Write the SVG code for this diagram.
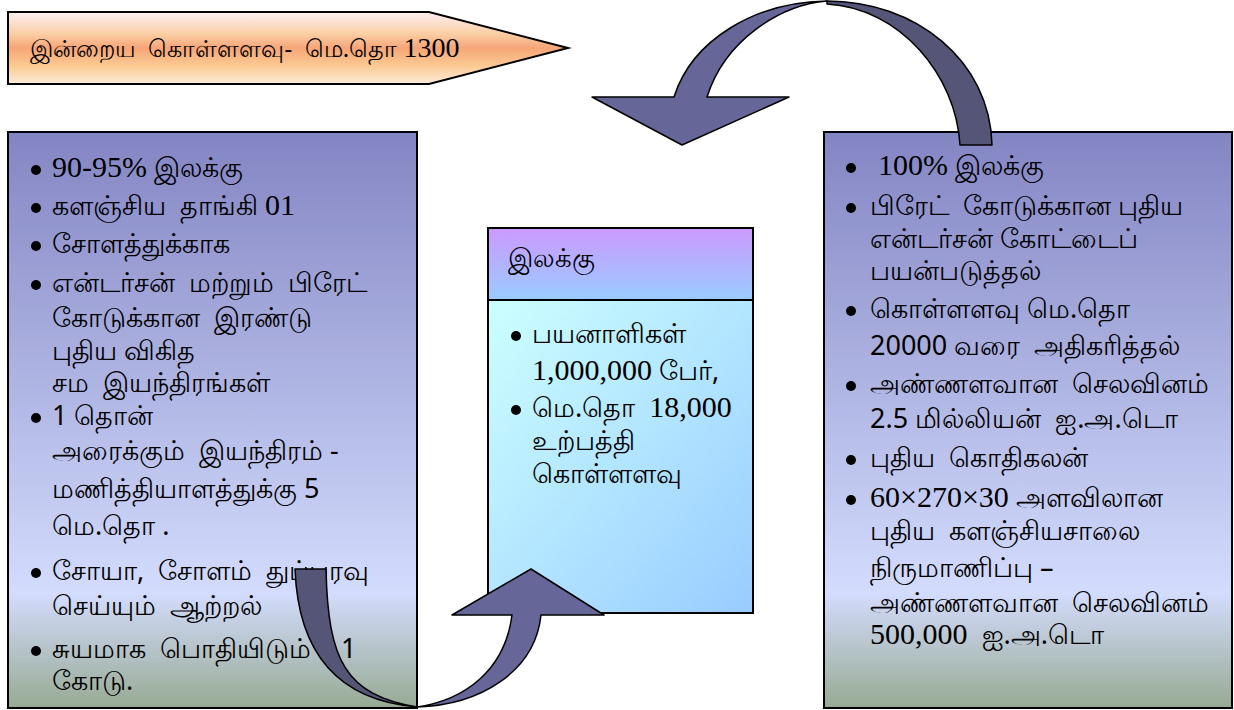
<svg xmlns="http://www.w3.org/2000/svg" width="1234" height="710" viewBox="0 0 1234 710">
<defs>
<linearGradient id="gTop" x1="0" y1="0" x2="0" y2="1">
<stop offset="0" stop-color="#fdeef2"/>
<stop offset="0.3" stop-color="#fbcfa6"/>
<stop offset="0.5" stop-color="#f6a577"/>
<stop offset="0.75" stop-color="#fbca92"/>
<stop offset="1" stop-color="#fdecda"/>
</linearGradient>
<linearGradient id="gSide" x1="0" y1="0" x2="0" y2="1">
<stop offset="0" stop-color="#8385c3"/>
<stop offset="0.8" stop-color="#d3dcfd"/>
<stop offset="1" stop-color="#97aa93"/>
</linearGradient>
<linearGradient id="gHead" x1="0" y1="0" x2="0" y2="1">
<stop offset="0" stop-color="#cc99ff"/>
<stop offset="1" stop-color="#99ccff"/>
</linearGradient>
<linearGradient id="gBody" x1="0" y1="0" x2="1" y2="1">
<stop offset="0" stop-color="#ccffff"/>
<stop offset="1" stop-color="#99ccff"/>
</linearGradient>
</defs>
<style>
.box{stroke:#000;stroke-width:2}
text{font-family:"Noto Sans","DejaVu Sans",sans-serif;font-size:27px;fill:#000;white-space:pre}
.s{font-family:"Liberation Serif","Times New Roman",serif;font-size:30px}
.arrL{fill:#666699;stroke:#000;stroke-width:1.5;stroke-linejoin:round}
.arrD{fill:#555577;stroke:#000;stroke-width:1.5;stroke-linejoin:round}
.b{fill:#000}
</style>

<g id="node-current">
<path class="box" d="M8,12 L429,12 L568,48 L429,84 L8,84 Z" fill="url(#gTop)"/>
<text x="30" y="57" style="font-size:24px">இன்றைய  கொள்ளளவு-  மெ.தொ <tspan class="s" style="font-size:28px">1300</tspan></text>
</g>

<g id="node-left">
<rect class="box" x="8" y="132" width="409" height="576" fill="url(#gSide)"/>
<circle class="b" cx="36" cy="170" r="5"/>
<text x="52" y="177"><tspan class="s">90-95%</tspan> இலக்கு</text>
<circle class="b" cx="36" cy="208" r="5"/>
<text x="52" y="215">களஞ்சிய  தாங்கி <tspan class="s">01</tspan></text>
<circle class="b" cx="36" cy="246" r="5"/>
<text x="52" y="253">சோளத்துக்காக</text>
<circle class="b" cx="36" cy="285" r="5"/>
<text x="52" y="292">என்டர்சன்  மற்றும்  பிரேட்</text>
<text x="52" y="327">கோடுக்கான  இரண்டு</text>
<text x="52" y="360">புதிய விகித</text>
<text x="52" y="392">சம  இயந்திரங்கள்</text>
<circle class="b" cx="36" cy="418" r="5"/>
<text x="52" y="425">1 தொன்</text>
<text x="52" y="460">அரைக்கும்  இயந்திரம் -</text>
<text x="52" y="498">மணித்தியாளத்துக்கு 5</text>
<text x="52" y="535">மெ.தொ .</text>
<circle class="b" cx="36" cy="573" r="5"/>
<text x="52" y="580">சோயா,  சோளம்  துப்பரவு</text>
<text x="52" y="615">செய்யும்  ஆற்றல்</text>
<circle class="b" cx="36" cy="651" r="5"/>
<text x="52" y="658">சுயமாக  பொதியிடும் <tspan x="341">1</tspan></text>
<text x="52" y="690">கோடு.</text>
</g>

<g id="node-target">
<rect class="box" x="488" y="228" width="265" height="72" fill="url(#gHead)"/>
<rect class="box" x="488" y="300" width="265" height="313" fill="url(#gBody)"/>
<text x="508" y="267" style="font-size:26px">இலக்கு</text>
<circle class="b" cx="516" cy="336" r="5"/>
<text x="532" y="343">பயனாளிகள்</text>
<text x="532" y="380"><tspan class="s">1,000,000</tspan> பேர்,</text>
<circle class="b" cx="516" cy="410" r="5"/>
<text x="532" y="417">மெ.தொ  <tspan class="s">18,000</tspan></text>
<text x="532" y="450">உற்பத்தி</text>
<text x="532" y="483">கொள்ளளவு</text>
</g>

<g id="node-right">
<rect class="box" x="824" y="132" width="408" height="576" fill="url(#gSide)"/>
<circle class="b" cx="851" cy="168" r="5"/>
<text x="878" y="175"><tspan class="s">100%</tspan> இலக்கு</text>
<circle class="b" cx="851" cy="208" r="5"/>
<text x="870" y="215">பிரேட்  கோடுக்கான புதிய</text>
<text x="870" y="248">என்டர்சன் கோட்டைப்</text>
<text x="870" y="280">பயன்படுத்தல்</text>
<circle class="b" cx="851" cy="311" r="5"/>
<text x="870" y="318">கொள்ளளவு மெ.தொ</text>
<text x="870" y="355">20000 வரை  அதிகரித்தல்</text>
<circle class="b" cx="851" cy="386" r="5"/>
<text x="870" y="393">அண்ணளவான  செலவினம்</text>
<text x="870" y="428">2.5 மில்லியன்  ஐ.அ.டொ</text>
<circle class="b" cx="851" cy="460" r="5"/>
<text x="870" y="467">புதிய  கொதிகலன்</text>
<circle class="b" cx="851" cy="500" r="5"/>
<text x="870" y="507"><tspan class="s">60×270×30</tspan> அளவிலான</text>
<text x="870" y="540">புதிய  களஞ்சியசாலை</text>
<text x="870" y="577">நிருமாணிப்பு –</text>
<text x="870" y="612">அண்ணளவான  செலவினம்</text>
<text x="870" y="644"><tspan class="s">500,000</tspan>  ஐ.அ.டொ</text>
</g>

<g id="connectors">
<path class="arrD" d="M827,1 C915,1 990,60 992,145 L960,145 C956,75 900,8 827,4 Z"/>
<path class="arrL" d="M592,97 L674,97 C692,40 755,2 827,1 C780,5 725,40 707,97 L789,97 L682,145 Z"/>
<path class="arrD" d="M295,569 L326,569 C328,660 345,695 417,707 C335,700 298,650 295,569 Z"/>
<path class="arrL" d="M417,707 C465,700 505,670 512,615 L452,615 L531,569 L604,615 L541,615 C535,672 480,705 417,707 Z"/>
</g>
</svg>
